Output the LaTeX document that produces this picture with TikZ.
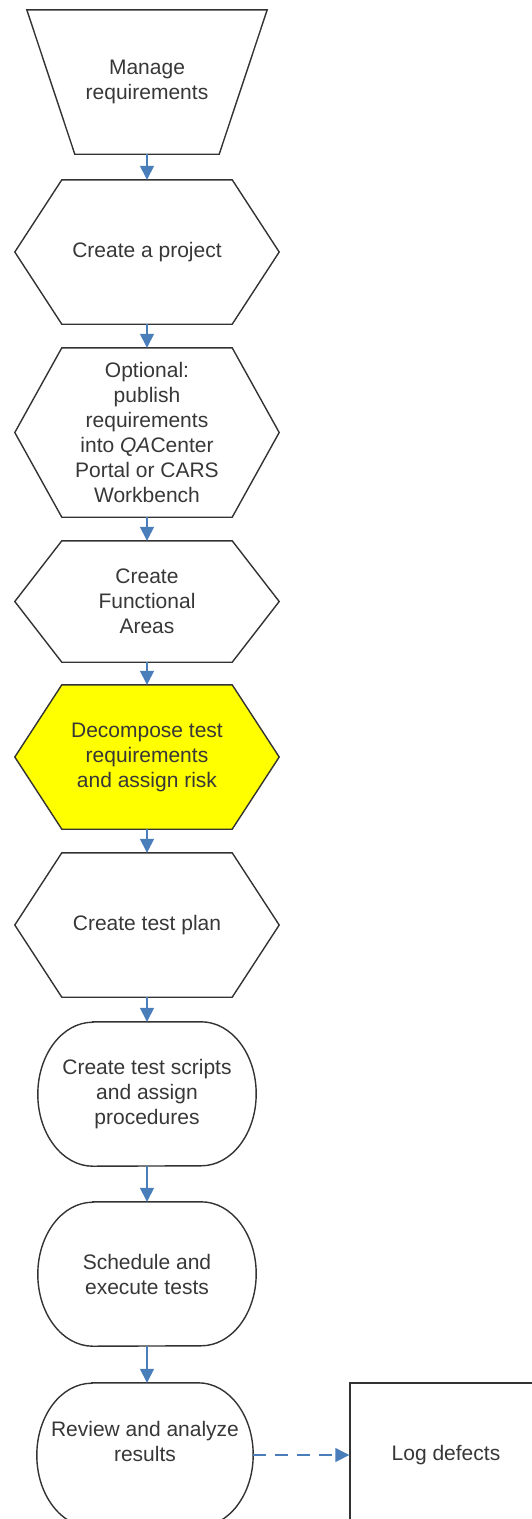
\documentclass[tikz,border=0pt]{standalone}
\usepackage{fontspec}
\setmainfont{Liberation Sans}
\usetikzlibrary{arrows.meta,backgrounds}
\definecolor{flowblue}{RGB}{74,126,187}
\definecolor{outline}{RGB}{51,51,51}
\definecolor{txt}{RGB}{55,55,55}
\definecolor{hiyellow}{RGB}{255,255,0}
\newcommand\hexoutline[2][]{%
  \draw[shapeline,#1] ([xshift=47pt]#2.north west) -- ([xshift=-47pt]#2.north east) -- (#2.east)
    -- ([xshift=-47pt]#2.south east) -- ([xshift=47pt]#2.south west) -- (#2.west) -- cycle;}
\newcommand\stadiumoutline[3]{%
  \draw[shapeline] ([xshift=#2]#1.north west) -- ([xshift=-#2]#1.north east)
    arc[start angle=90, end angle=-90, x radius=#2, y radius=#3]
    -- ([xshift=#2]#1.south west)
    arc[start angle=270, end angle=90, x radius=#2, y radius=#3] -- cycle;}
\begin{document}
\begin{tikzpicture}[x=1pt,y=-1pt,
  box/.style={inner sep=0pt, align=center, text=txt, font=\fontsize{21}{25}\selectfont},
  shapeline/.style={draw=outline, line width=1.4pt, line join=miter},
  flow/.style={draw=flowblue, line width=1.4pt, -{Triangle[width=14pt,length=14pt]}},
  dflow/.style={flow, dash pattern=on 13pt off 9pt},
]
\useasboundingbox (0,0) rectangle (531,1519);

\node[box, minimum width=240pt, minimum height=144pt] (T) at (147,82) {Manage\\requirements};
\node[box, minimum width=264pt, minimum height=144pt] (H1) at (147,252) {Create a project};
\node[box, minimum width=264pt, minimum height=169pt] (H2) at (147,432.5) {Optional:\\publish\\requirements\\into \textit{QA}Center\\Portal or CARS\\Workbench};
\node[box, minimum width=264pt, minimum height=121pt] (H3) at (147,601.5) {Create\\Functional\\Areas};
\node[box, minimum width=264pt, minimum height=144pt] (H4) at (147,757) {Decompose test\\requirements\\and assign risk};
\node[box, minimum width=264pt, minimum height=144pt] (H5) at (147,925) {Create test plan};
\node[box, minimum width=218pt, minimum height=144pt] (R1) at (147,1094) {Create test scripts\\and assign\\procedures};
\node[box, minimum width=218pt, minimum height=144pt] (R2) at (147,1274) {Schedule and\\execute tests};
\node[box, minimum width=216pt, minimum height=144pt] (R3) at (145,1455) {};
\node[box] (R3text) at ([yshift=13.5pt]R3.center) {Review and analyze\\results};
\node[box, draw=outline, line width=1.4pt, minimum width=192pt, minimum height=144pt] (L) at (446,1455) {Log defects};

\begin{scope}[on background layer]
  \draw[shapeline] (T.north west) -- (T.north east) -- ([xshift=-48pt]T.south east)
    -- ([xshift=48pt]T.south west) -- cycle;
  \hexoutline{H1}
  \hexoutline{H2}
  \hexoutline{H3}
  \hexoutline[fill=hiyellow]{H4}
  \hexoutline{H5}
  \stadiumoutline{R1}{55pt}{72pt}
  \stadiumoutline{R2}{55pt}{72pt}
  \stadiumoutline{R3}{55pt}{72pt}
\end{scope}

\draw[flow] (T.south) -- (H1.north);
\draw[flow] (H1.south) -- (H2.north);
\draw[flow] (H2.south) -- (H3.north);
\draw[flow] (H3.south) -- (H4.north);
\draw[flow] (H4.south) -- (H5.north);
\draw[flow] (H5.south) -- (R1.north);
\draw[flow] (R1.south) -- (R2.north);
\draw[flow] (R2.south) -- (R2.south |- R3.north);
\draw[dflow] (R3.east) -- (L.west);
\end{tikzpicture}
\end{document}
